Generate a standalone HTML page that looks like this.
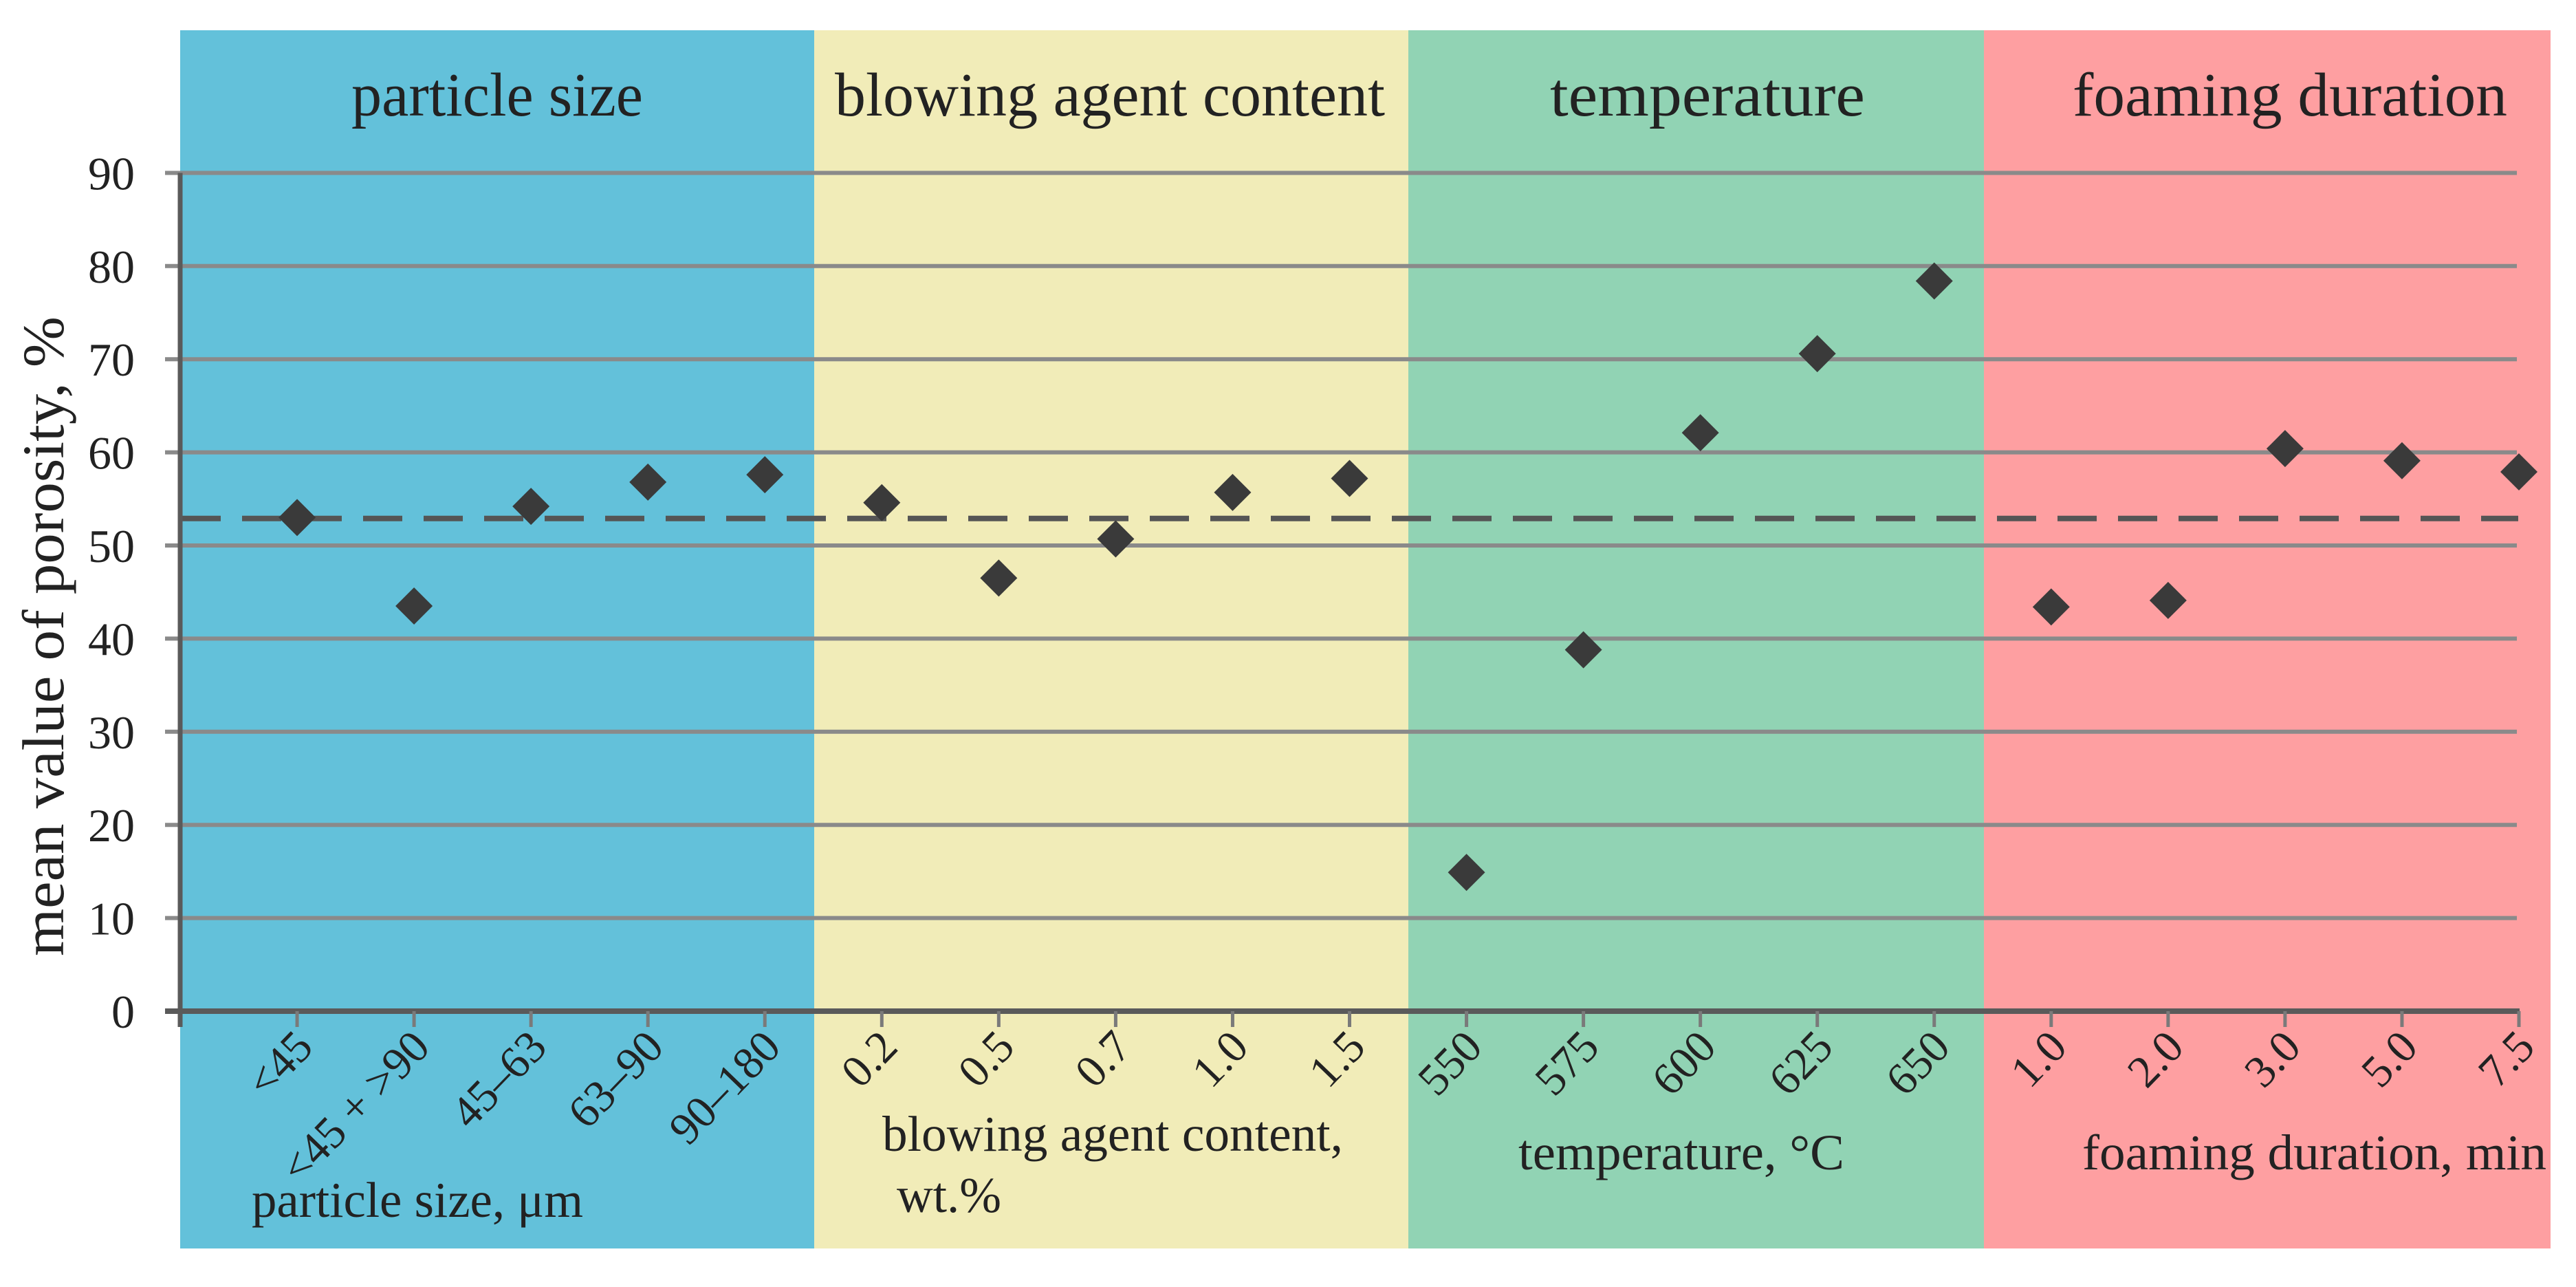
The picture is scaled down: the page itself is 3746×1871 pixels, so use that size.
<!DOCTYPE html>
<html><head><meta charset="utf-8"><style>html,body{margin:0;padding:0;background:#fff}svg{display:block}</style></head>
<body>
<svg id="chart" xmlns="http://www.w3.org/2000/svg" width="3746" height="1871" viewBox="0 0 3746 1871" font-family="'Liberation Serif', serif" fill="#222">
<g id="bg"></g><g id="grid"></g><g id="axes"></g><g id="labels"></g><g id="marks"></g>
</svg>
<script>
const categories = ["<45","<45 + >90","45–63","63–90","90–180","0.2","0.5","0.7","1.0","1.5","550","575","600","625","650","1.0","2.0","3.0","5.0","7.5"];
const porosity = [53.0,43.5,54.2,56.8,57.6,54.6,46.5,50.7,55.7,57.2,14.9,38.8,62.1,70.6,78.4,43.4,44.1,60.4,59.1,57.9];
const meanPorosity = 52.9;
const yTicks = [0,10,20,30,40,50,60,70,80,90];
const groupNames = ["particle size","blowing agent content","temperature","foaming duration"];
const groupAxisTitles = ["particle size, μm","blowing agent content,","temperature, °C","foaming duration, min"];

const NS="http://www.w3.org/2000/svg";
const x0=262, step=170.05, y0=1470, yScale=13.54;
const xPos=i=>x0+step*(i+1);
const yPos=v=>y0-v*yScale;
function mk(tag,attrs,parent,text){const e=document.createElementNS(NS,tag);for(const k in attrs)e.setAttribute(k,attrs[k]);if(text!==undefined)e.textContent=text;document.getElementById(parent).appendChild(e);return e;}

const panels=[[262,1184,"#63c1da"],[1184,2048,"#f1ecb8"],[2048,2885,"#91d3b4"],[2885,3709,"#fe9fa1"]];
panels.forEach((p,i)=>{const r=mk('rect',{x:p[0],y:44,width:p[1]-p[0],height:1771,fill:p[2]},'bg');

});

yTicks.forEach(v=>{
  if(v>0){const g=mk('line',{x1:240,x2:3660,y1:yPos(v),y2:yPos(v),stroke:'#8a8a8a','stroke-width':6},'grid');
  
  }
  const t=mk('text',{x:196,y:yPos(v)+24,'text-anchor':'end','font-size':68},'labels',String(v));
  
  
});

const ya=mk('line',{x1:262,x2:262,y1:yPos(90),y2:1493,stroke:'#5a5a5a','stroke-width':7},'axes');


const xa=mk('line',{x1:240,x2:3664,y1:y0,y2:y0,stroke:'#5a5a5a','stroke-width':8},'axes');



const ml=mk('line',{x1:264,x2:3662,y1:yPos(meanPorosity),y2:yPos(meanPorosity),stroke:'#555','stroke-width':8,'stroke-dasharray':'57 31'},'grid');



categories.forEach((c,i)=>{
  const x=xPos(i);
  const tk=mk('line',{x1:x,x2:x,y1:y0,y2:1493,stroke:'#7a7a7a','stroke-width':5},'axes');
  
  
  const ax=x+26, ay=1525;
  const t=mk('text',{x:ax,y:ay,'text-anchor':'end','font-size':66,transform:`rotate(-46 ${ax} ${ay})`},'labels',c);
  
  
});

porosity.forEach((v,i)=>{
  const x=xPos(i),y=yPos(v),h=27;
  const d=mk('polygon',{points:`${x},${y-h} ${x+h},${y} ${x},${y+h} ${x-h},${y}`,fill:'#3a3a3a'},'marks');
  
  
});

const hdr=[[511,935],[1214,2014],[2254,2712],[3014,3646]];
groupNames.forEach((g,i)=>{
  const t=mk('text',{x:hdr[i][0],y:168,'font-size':90,textLength:hdr[i][1]-hdr[i][0],lengthAdjust:'spacingAndGlyphs'},'labels',g);
  
  
});
const at=[[366,1769,848],[1283,1673,1953],[2208,1700,2682],[3028,1700,3703]];
groupAxisTitles.forEach((g,i)=>{
  const t=mk('text',{x:at[i][0],y:at[i][1],'font-size':73,textLength:at[i][2]-at[i][0],lengthAdjust:'spacingAndGlyphs'},'labels',g);
  
  
});
const wt=mk('text',{x:1304,y:1762,'font-size':73},'labels','wt.%');



const yt=mk('text',{x:0,y:0,'font-size':86,'text-anchor':'middle',transform:'translate(92 925) rotate(-90)',textLength:930,lengthAdjust:'spacingAndGlyphs'},'labels','mean value of porosity, %');


</script>
</body></html>
